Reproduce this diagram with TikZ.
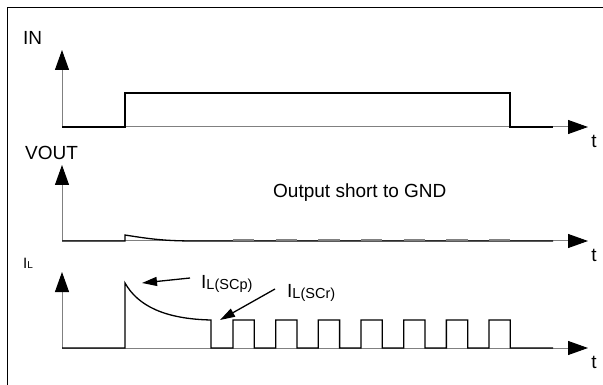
\documentclass[tikz,border=0pt]{standalone}
\usepackage{fontspec}
\setmainfont{Liberation Sans}
\usetikzlibrary{arrows.meta}
\begin{document}
\begin{tikzpicture}[x=1pt,y=-1pt,
  axis/.style={draw=black!50, line width=1pt, -{Triangle[length=20pt,width=14pt,color=black]}},
  sig/.style={draw=black, line width=1.3pt, line join=miter},
  dsh/.style={draw=black!50, line width=2pt},
  ptr/.style={draw=black, line width=1.3pt, -{Triangle[length=15pt,width=9pt]}},
  big/.style={font=\fontsize{19}{19}\selectfont, inner sep=0pt},
  frame/.style={draw=black, line width=1pt}]
\useasboundingbox (0,0) rectangle (603,385);
\draw[frame] (7,385) -- (7,8) -- (603,8);

% ---- IN ----
\node[big, anchor=base west] (lin) at (23,45) {IN};
\coordinate (inO) at (62,127);
\coordinate (inY) at (62,50);
\coordinate (inX) at (588,127);
\draw[axis] (inO) -- (inY);
\draw[axis] (inO) -- (inX);
\node[big] (tin) at (594,141) {t};
\draw[sig] (inO) -- (125,127) -- (125,93) -- (510,93) -- (510,127) -- (553,127);

% ---- VOUT ----
\node[big, anchor=base west] (lvout) at (25,160) {VOUT};
\coordinate (voO) at (62,241);
\coordinate (voY) at (62,165);
\coordinate (voX) at (588,241);
\draw[axis] (voO) -- (voY);
\draw[axis] (voO) -- (voX);
\node[big] (tvo) at (594,255) {t};
\node[big, anchor=base west] (short) at (273,197) {Output short to GND};
\draw[sig] (voO) -- (125,241) -- (125,235) .. controls (150,239) and (165,241) .. (195,241) -- (553,241);
\foreach \k in {0,...,6}{
  \draw[dsh] ({233+42.67*\k},239.6) -- ({254.3+42.67*\k},239.6);
}

% ---- IL ----
\node[anchor=base west, inner sep=0pt] (lil) at (23,268) {\fontsize{15}{15}\selectfont I\raisebox{-1pt}{\fontsize{10}{10}\selectfont L}};
\coordinate (ilO) at (62,348);
\coordinate (ilY) at (62,272);
\coordinate (ilX) at (588,348);
\draw[axis] (ilO) -- (ilY);
\draw[axis] (ilO) -- (ilX);
\node[big] (til) at (594,362) {t};
\coordinate (pk) at (125,283);
\coordinate (rt) at (211,320);
\draw[sig] (ilO) -- (125,348) -- (pk) .. controls (138,306) and (165,319) .. (rt) -- (211,348)
  \foreach \k in {0,...,6}{ -- ({233+42.67*\k},348) -- ({233+42.67*\k},320) -- ({254.3+42.67*\k},320) -- ({254.3+42.67*\k},348) }
  -- (553,348);

\node[anchor=base west, inner sep=0pt] (lscp) at (201,288) {\fontsize{19}{19}\selectfont I\raisebox{-1.5pt}{\fontsize{14.5}{14.5}\selectfont L(SCp)}};
\node[anchor=base west, inner sep=0pt] (lscr) at (287,297) {\fontsize{19}{19}\selectfont I\raisebox{-1.5pt}{\fontsize{14.5}{14.5}\selectfont L(SCr)}};
\coordinate (scpT) at (142,283);
\coordinate (scrT) at (220,320);
\draw[ptr] (190,278) -- (scpT);
\draw[ptr] (275,289) -- (scrT);
\end{tikzpicture}
\end{document}
